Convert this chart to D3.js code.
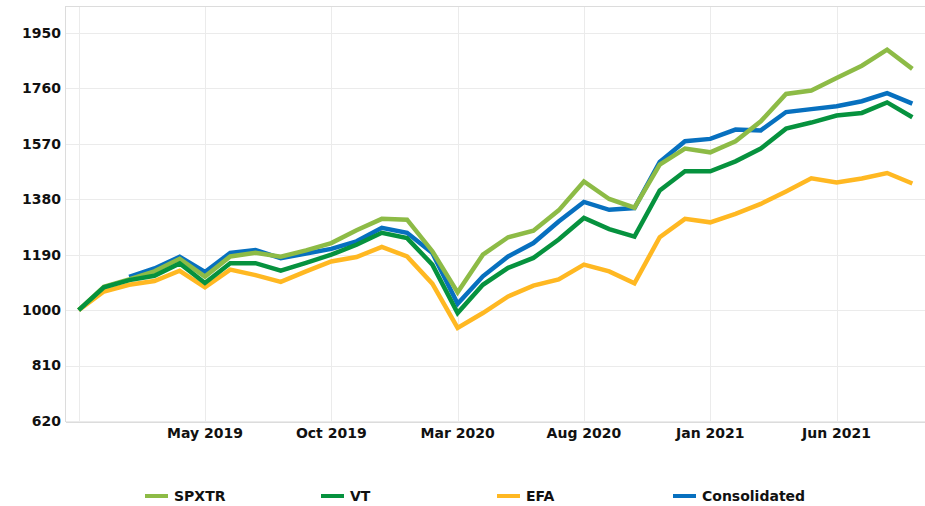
<!DOCTYPE html>
<html>
<head>
<meta charset="utf-8">
<script src="https://cdn.jsdelivr.net/npm/d3@7"></script>
<style>
  body { margin: 0; background: #fff; }
  text { font-family: "DejaVu Sans", sans-serif; font-weight: bold; fill: #111; }
</style>
</head>
<body>
<div id="chart"></div>
<script>
// Months, Dec 2018 .. Sep 2021
var months = d3.range(34).map(function (i) { return new Date(2018, 11 + i, 1); });

var tickIndex = [0, 5, 10, 15, 20, 25, 30];
var tickLabels = ["", "May 2019", "Oct 2019", "Mar 2020", "Aug 2020", "Jan 2021", "Jun 2021"];
var yTicks = [620, 810, 1000, 1190, 1380, 1570, 1760, 1950];

var spxtr = [1000, 1080, 1105, 1133, 1176, 1115, 1184, 1197, 1183, 1205, 1230, 1274, 1313, 1310, 1202, 1061, 1190, 1250, 1272, 1342, 1441, 1381, 1351, 1499, 1554, 1541, 1579, 1647, 1741, 1753, 1796, 1838, 1893, 1827];
var vt = [1000, 1078, 1103, 1118, 1160, 1093, 1161, 1161, 1135, 1162, 1190, 1224, 1265, 1247, 1156, 990, 1087, 1145, 1179, 1242, 1316, 1278, 1252, 1410, 1476, 1476, 1510, 1554, 1622, 1643, 1667, 1676, 1712, 1661];
var efa = [1000, 1064, 1087, 1100, 1135, 1078, 1139, 1120, 1097, 1133, 1167, 1182, 1217, 1184, 1091, 939, 990, 1047, 1084, 1105, 1156, 1133, 1092, 1250, 1313, 1301, 1330, 1364, 1407, 1452, 1438, 1451, 1470, 1434];
var consolidated = [null, null, 1114, 1143, 1183, 1131, 1196, 1206, 1178, 1194, 1210, 1236, 1282, 1265, 1196, 1022, 1116, 1184, 1230, 1304, 1371, 1344, 1350, 1508, 1579, 1587, 1619, 1616, 1679, 1689, 1699, 1716, 1744, 1708];

var seriesNames = ["SPXTR", "VT", "EFA", "Consolidated"];
var seriesColors = ["#8DBB46", "#06923E", "#FFB822", "#0770BF"];
var seriesValues = [spxtr, vt, efa, consolidated];
// drawing order, bottom to top
var drawOrder = [2, 3, 0, 1];

var width = 925;
var height = 506;
var plotLeft = 66, plotRight = 925, plotTop = 6, plotBottom = 422;

var svg = d3.select("#chart")
  .append("svg")
  .attr("width", width)
  .attr("height", height);

var x = d3.scaleLinear()
  .domain([-0.5, months.length - 0.5])
  .range([plotLeft, plotRight]);

var y = d3.scaleLinear()
  .domain([616.6, 2042.5])
  .range([plotBottom, plotTop]);

// gridlines
svg.append("g")
  .selectAll("line")
  .data(yTicks)
  .enter()
  .append("line")
  .attr("x1", plotLeft)
  .attr("x2", plotRight)
  .attr("y1", function (d) { return Math.round(y(d)) + 0.5; })
  .attr("y2", function (d) { return Math.round(y(d)) + 0.5; })
  .attr("stroke", "#ebebeb")
  .attr("stroke-width", 1);

svg.append("g")
  .selectAll("line")
  .data(tickIndex)
  .enter()
  .append("line")
  .attr("x1", function (d) { return Math.round(x(d)) + 0.5; })
  .attr("x2", function (d) { return Math.round(x(d)) + 0.5; })
  .attr("y1", plotTop)
  .attr("y2", plotBottom)
  .attr("stroke", "#ebebeb")
  .attr("stroke-width", 1);

// frame
svg.append("line")
  .attr("x1", plotLeft - 0.5).attr("x2", plotLeft - 0.5)
  .attr("y1", plotTop).attr("y2", plotBottom)
  .attr("stroke", "#dcdcdc");
svg.append("line")
  .attr("x1", plotLeft).attr("x2", plotRight)
  .attr("y1", plotTop + 0.5).attr("y2", plotTop + 0.5)
  .attr("stroke", "#dcdcdc");
svg.append("line")
  .attr("x1", plotLeft).attr("x2", plotRight)
  .attr("y1", plotBottom + 0.5).attr("y2", plotBottom + 0.5)
  .attr("stroke", "#dcdcdc");

// y labels
svg.append("g")
  .selectAll("text")
  .data(yTicks)
  .enter()
  .append("text")
  .attr("x", plotLeft - 5)
  .attr("y", function (d) { return y(d); })
  .attr("dy", "0.35em")
  .attr("text-anchor", "end")
  .style("font-size", "14px")
  .text(function (d) { return d; });

// x labels
svg.append("g")
  .selectAll("text")
  .data(tickIndex)
  .enter()
  .append("text")
  .attr("x", function (d) { return x(d); })
  .attr("y", 438)
  .attr("text-anchor", "middle")
  .style("font-size", "14px")
  .text(function (d, i) { return tickLabels[i]; });

// lines
var line = d3.line()
  .defined(function (d) { return d != null; })
  .x(function (d, i) { return x(i); })
  .y(function (d) { return y(d); });

svg.append("g")
  .selectAll("path")
  .data(drawOrder)
  .enter()
  .append("path")
  .attr("d", function (k) { return line(seriesValues[k]); })
  .attr("fill", "none")
  .attr("stroke", function (k) { return seriesColors[k]; })
  .attr("stroke-width", 4.5)
  .attr("stroke-linejoin", "miter");

// legend
var legend = svg.append("g")
  .selectAll("g")
  .data(seriesNames)
  .enter()
  .append("g")
  .attr("transform", function (d, i) { return "translate(" + (145 + i * 176) + ",496)"; });

legend.append("rect")
  .attr("x", 0)
  .attr("y", -2)
  .attr("width", 23)
  .attr("height", 4)
  .attr("fill", function (d, i) { return seriesColors[i]; });

legend.append("text")
  .attr("x", 29)
  .attr("y", 0)
  .attr("dy", "0.35em")
  .style("font-size", "14px")
  .text(function (d) { return d; });
</script>
</body>
</html>
